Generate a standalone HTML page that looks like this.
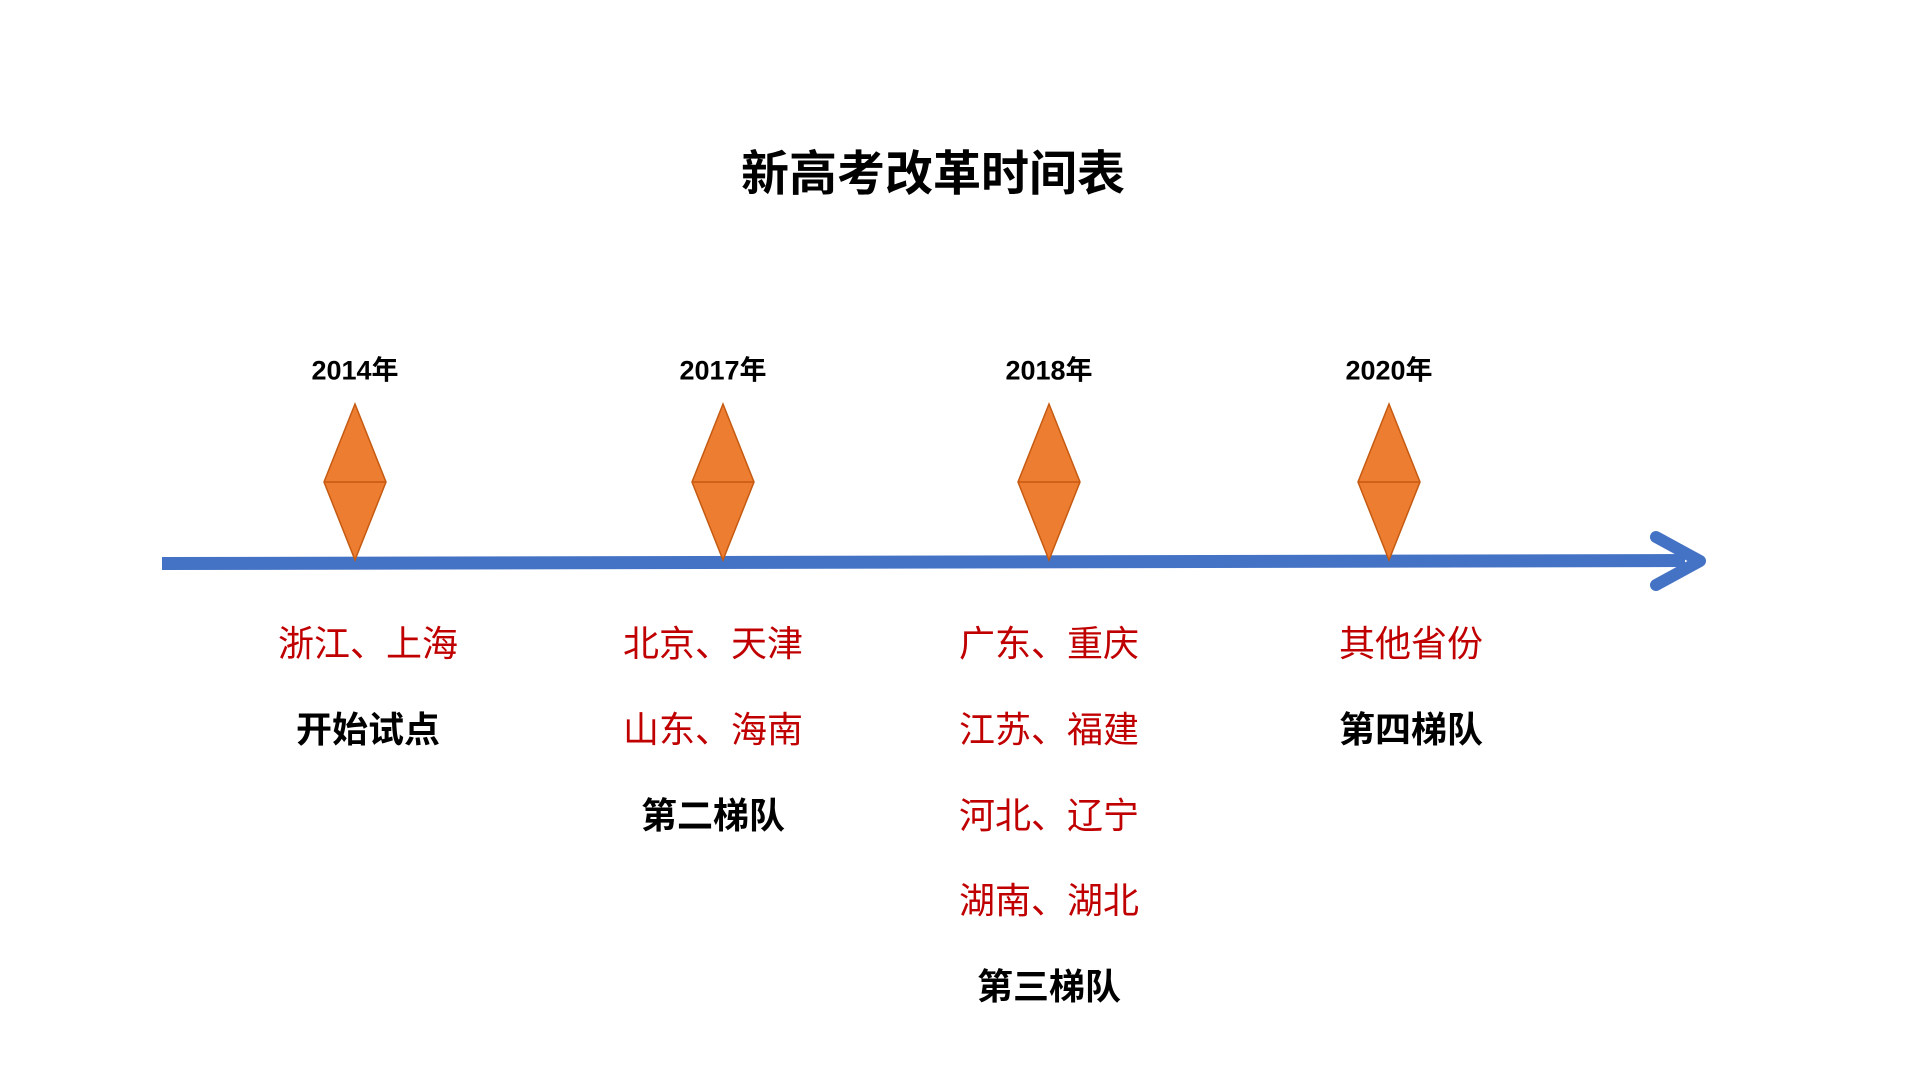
<!DOCTYPE html>
<html><head><meta charset="utf-8"><style>
body{margin:0;width:1920px;height:1080px;background:#fff;position:relative;overflow:hidden;font-family:"Liberation Sans","Noto Sans CJK SC",sans-serif}
.t{position:absolute;transform:translate(-50%,-50%);white-space:nowrap;line-height:1}
.r{color:#C00000;font-size:36px}
.b{color:#000;font-size:36px;font-weight:bold}
.y{font-size:27px;font-weight:bold;color:#000}
</style></head><body>
<div class="t" style="left:933px;top:175px;font-size:48px;font-weight:bold">新高考改革时间表</div>
<svg width="1920" height="1080" style="position:absolute;left:0;top:0">
<polygon points="162,557 1685,554 1685,567 162,570" fill="#4472C4"/>
<polyline points="1656,537 1700,561 1656,585" fill="none" stroke="#4472C4" stroke-width="12" stroke-linecap="round" stroke-linejoin="round"/>
<g fill="#ED7D31" stroke="#C55A11" stroke-width="1.5">
<polygon points="355,404 386,482 355,560 324,482"/><line x1="324" y1="482" x2="386" y2="482"/>
<polygon points="723,404 754,482 723,560 692,482"/><line x1="692" y1="482" x2="754" y2="482"/>
<polygon points="1049,404 1080,482 1049,560 1018,482"/><line x1="1018" y1="482" x2="1080" y2="482"/>
<polygon points="1389,404 1420,482 1389,560 1358,482"/><line x1="1358" y1="482" x2="1420" y2="482"/>
</g>
</svg>
<div class="t y" style="left:355px;top:371px">2014年</div>
<div class="t y" style="left:723px;top:371px">2017年</div>
<div class="t y" style="left:1049px;top:371px">2018年</div>
<div class="t y" style="left:1389px;top:371px">2020年</div>

<div class="t r" style="left:368px;top:644px">浙江、上海</div>
<div class="t b" style="left:368px;top:730px">开始试点</div>

<div class="t r" style="left:713px;top:644px">北京、天津</div>
<div class="t r" style="left:713px;top:730px">山东、海南</div>
<div class="t b" style="left:713px;top:816px">第二梯队</div>

<div class="t r" style="left:1049px;top:644px">广东、重庆</div>
<div class="t r" style="left:1049px;top:730px">江苏、福建</div>
<div class="t r" style="left:1049px;top:816px">河北、辽宁</div>
<div class="t r" style="left:1049px;top:901px">湖南、湖北</div>
<div class="t b" style="left:1049px;top:987px">第三梯队</div>

<div class="t r" style="left:1411px;top:644px">其他省份</div>
<div class="t b" style="left:1411px;top:730px">第四梯队</div>
</body></html>
